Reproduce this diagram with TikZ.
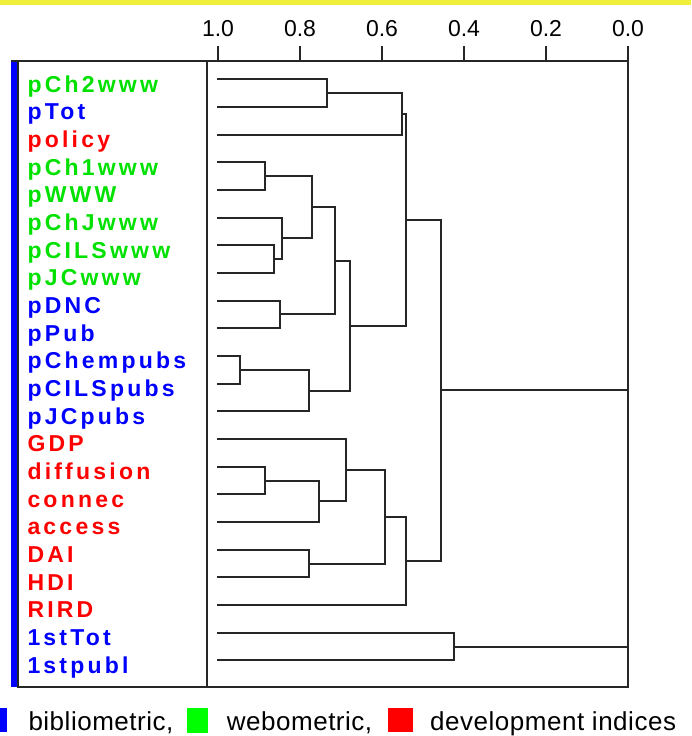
\documentclass[tikz,border=0pt]{standalone}
\usepackage{fontspec}
\setmainfont{Liberation Sans}
\newfontfamily\leaffont[LetterSpace=14]{Liberation Sans}
\newfontfamily\keyfont[LetterSpace=2]{Liberation Sans}
\usetikzlibrary{calc}
\definecolor{biblio}{RGB}{0,0,255}
\definecolor{webo}{RGB}{0,225,0}
\definecolor{webokey}{RGB}{0,255,0}
\definecolor{devel}{RGB}{255,0,0}
\definecolor{band}{RGB}{240,240,60}

\begin{document}
\begin{tikzpicture}[x=1pt, y=-1pt,
    link/.style={draw=black!85, line width=2pt},
    frame/.style={draw=black!85, line width=2pt},
    leaf/.style={anchor=base west, inner sep=0pt, font=\leaffont\bfseries\fontsize{23}{23}\selectfont},
    ticklabel/.style={inner sep=0pt, font=\fontsize{23}{23}\selectfont},
    key/.style={anchor=base west, inner sep=0pt, font=\keyfont\fontsize{26}{26}\selectfont}]
    \useasboundingbox (0,0) rectangle (691,736);
    \fill[band] (0,0) rectangle (691,5);

    % distance axis
    \foreach \t [count=\i] in {1.0,0.8,0.6,0.4,0.2,0.0} {
        \pgfmathsetmacro\px{218+82*(\i-1)}
        \draw[frame] (\px,46) -- (\px,61);
        \node[ticklabel] (a\i) at (\px,28.4) {\t};
    }

    % frame
    \fill[biblio] (11,61) rectangle (16.5,687);
    \draw[frame] (11,61) -- (628,61);
    \draw[frame] (17.5,61) -- (17.5,687) -- (628,687) -- (628,61);
    \draw[frame] (207,61) -- (207,687);

    % leaves
    \foreach \name/\c [count=\i] in {pCh2www/webo, pTot/biblio, policy/devel,
        pCh1www/webo, pWWW/webo, pChJwww/webo, pCILSwww/webo, pJCwww/webo,
        pDNC/biblio, pPub/biblio, pChempubs/biblio, pCILSpubs/biblio, pJCpubs/biblio,
        GDP/devel, diffusion/devel, connec/devel, access/devel, DAI/devel,
        HDI/devel, RIRD/devel, 1stTot/biblio, 1stpubl/biblio} {
        \pgfmathsetmacro\ly{79.3+27.67*(\i-1)}
        \coordinate (l\i) at (217,\ly);
        \node[leaf, text=\c] (t\i) at (27.3,\ly+12.7) {\name};
    }

    % merges: name/height/child/child
    \foreach \m/\h/\a/\b in {j1/327/l1/l2, j2/402/j1/l3, j3/265/l4/l5,
        j4/274/l7/l8, j5/282/l6/j4, j6/312/j3/j5, j7/280/l9/l10,
        j8/335/j6/j7, j9/240/l11/l12, j10/309/j9/l13, j11/350/j8/j10,
        j12/406/j2/j11, j13/265/l15/l16, j14/319/j13/l17, j15/346/l14/j14,
        j16/309/l18/l19, j17/385/j15/j16, j18/406/j17/l20, j19/441/j12/j18,
        j20/454/l21/l22, root/628/j19/j20} {
        \path let \p1=($(\a)!0.5!(\b)$) in coordinate (\m) at (\h,\y1);
        \draw[link] (\a) -| (\m) |- (\b);
    }

    % legend
    \fill[biblio] (0,708) rectangle (7.3,731.7);
    \node[key] (k1) at (28.3,730) {bibliometric,};
    \fill[webokey] (186.7,708) rectangle (208.3,733);
    \node[key] (k2) at (226.7,730) {webometric,};
    \fill[devel] (388.3,708) rectangle (413.3,731.7);
    \node[key] (k3) at (430,730) {development indices};
\end{tikzpicture}
\end{document}
